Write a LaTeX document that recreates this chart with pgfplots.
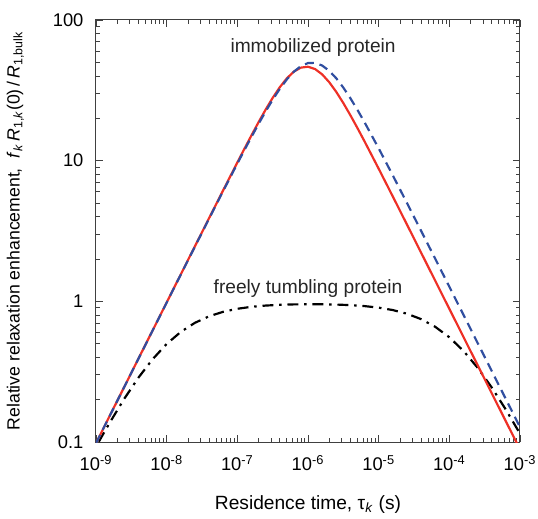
\documentclass[border=0pt]{standalone}
\usepackage{fontspec}
\setmainfont{Liberation Sans}
\usepackage{pgfplots}
\pgfplotsset{compat=1.18}

\definecolor{lineRed}{RGB}{238,48,38}
\definecolor{lineBlue}{RGB}{48,78,160}

\begin{document}
\begin{tikzpicture}
\begin{axis}[
    scale only axis,
    width=254.4pt,
    height=253.2pt,
    xmode=log, ymode=log,
    xmin=1e-9, xmax=1e-3,
    ymin=0.1, ymax=100,
    xtick={1e-9,1e-8,1e-7,1e-6,1e-5,1e-4,1e-3},
    xticklabels={10\textsuperscript{-9},10\textsuperscript{-8},10\textsuperscript{-7},10\textsuperscript{-6},10\textsuperscript{-5},10\textsuperscript{-4},10\textsuperscript{-3}},
    ytick={0.1,1,10,100},
    yticklabels={0.1,1,10,100},
    tick align=inside,
    major tick length=4pt,
    minor tick length=2.6pt,
    every tick/.style={black!75, line width=0.5pt},
    axis line style={black!75, line width=0.6pt},
    tick label style={font=\fontsize{11}{13}\selectfont},
    xticklabel style={yshift=-4.5pt},
    yticklabel style={xshift=-4pt},
    xlabel={Residence time, τ\textsubscript{\textit{k}} (s)},
    ylabel={Relative relaxation enhancement,\ \ \textit{f}\textsubscript{\textit{k}}\,\textit{R}\textsubscript{1,\textit{k}}(0)\,/\,\textit{R}\textsubscript{1,bulk}},
    xlabel style={font=\fontsize{11.5}{13}\selectfont, at={(0.5,-0.148)}, anchor=center},
    ylabel style={font=\fontsize{10.6}{13}\selectfont, at={(-0.19,0.5)}, anchor=center},
    clip=true,
]

% freely tumbling protein
\addplot[black, line width=1.3pt, dash pattern=on 6.5pt off 3.5pt on 1.5pt off 3.5pt] coordinates {
(1.096e-9,0.1004) (1.259e-9,0.1135) (1.585e-9,0.1387) (2.512e-9,0.2029) (3.981e-9,0.2865)
(6.310e-9,0.3872) (1e-8,0.4975) (1.585e-8,0.6064) (2.512e-8,0.7037) (3.981e-8,0.7829)
(6.310e-8,0.8427) (1e-7,0.8852) (1.585e-7,0.9141) (2.512e-7,0.9329) (3.981e-7,0.9446)
(6.310e-7,0.9511) (1e-6,0.9538) (1.585e-6,0.9530) (2.512e-6,0.9486) (3.981e-6,0.9398)
(6.310e-6,0.9250) (1e-5,0.9018) (1.585e-5,0.8669) (2.512e-5,0.8166) (3.981e-5,0.7477)
(6.310e-5,0.6594) (1e-4,0.5554) (1.585e-4,0.4444) (2.512e-4,0.3375) (3.981e-4,0.2443)
(6.310e-4,0.1699) (1e-3,0.1146)
};

% immobilized protein, solid
\addplot[lineRed, line width=1.3pt] coordinates {
(1e-9,0.0981) (1.585e-9,0.1555) (2.512e-9,0.2464) (3.981e-9,0.3906) (6.310e-9,0.619)
(1e-8,0.981) (1.585e-8,1.555) (2.512e-8,2.463) (3.981e-8,3.899) (6.310e-8,6.163)
(1e-7,9.704) (1.259e-7,12.139) (1.585e-7,15.129) (1.995e-7,18.750) (2.512e-7,23.034)
(3.162e-7,27.931) (3.981e-7,33.224) (5.012e-7,38.466) (6.310e-7,42.954) (7.943e-7,45.864)
(1e-6,46.539) (1.259e-6,44.811) (1.585e-6,41.097) (1.995e-6,36.172) (2.512e-6,30.835)
(3.162e-6,25.679) (3.981e-6,21.040) (5.012e-6,17.052) (6.310e-6,13.720) (1e-5,8.774)
(1.585e-5,5.566) (2.512e-5,3.520) (3.981e-5,2.2225) (6.310e-5,1.4028) (1e-4,0.8853)
(1.585e-4,0.5586) (2.512e-4,0.3525) (3.981e-4,0.2224) (6.310e-4,0.1403) (1e-3,0.0885)
};

% immobilized protein, dashed
\addplot[lineBlue, line width=1.3pt, dash pattern=on 5.5pt off 3.5pt] coordinates {
(1e-9,0.0981) (1.585e-9,0.1554) (2.512e-9,0.2462) (3.981e-9,0.3901) (6.310e-9,0.6179)
(1e-8,0.9785) (1.585e-8,1.5488) (2.512e-8,2.4491) (3.981e-8,3.8665) (6.310e-8,6.0867)
(1e-7,9.529) (1.259e-7,11.880) (1.585e-7,14.756) (1.995e-7,18.228) (2.512e-7,22.344)
(3.162e-7,27.088) (3.981e-7,32.335) (5.012e-7,37.782) (6.310e-7,42.915) (7.943e-7,47.036)
(1e-6,49.422) (1.259e-6,49.581) (1.585e-6,47.481) (1.995e-6,43.558) (2.512e-6,38.519)
(3.162e-6,33.080) (3.981e-6,27.784) (5.012e-6,22.960) (6.310e-6,18.755) (1e-5,12.243)
(1.585e-5,7.862) (2.512e-5,5.007) (3.981e-5,3.176) (6.310e-5,2.0102) (1e-4,1.2707)
(1.585e-4,0.8026) (2.512e-4,0.5068) (3.981e-4,0.3199) (6.310e-4,0.2019) (1e-3,0.1274)
};

\node[font=\fontsize{11.5}{13}\selectfont, black!85] at (axis cs:1.18e-6,64) {immobilized protein};
\node[font=\fontsize{11.5}{13}\selectfont, black!85] at (axis cs:1e-6,1.23) {freely tumbling protein};

\end{axis}
\pgfresetboundingbox
\path ([shift={(-57.6pt,-46.2pt)}]current axis.south west) rectangle ([shift={(10.8pt,12pt)}]current axis.north east);
\end{tikzpicture}
\end{document}
